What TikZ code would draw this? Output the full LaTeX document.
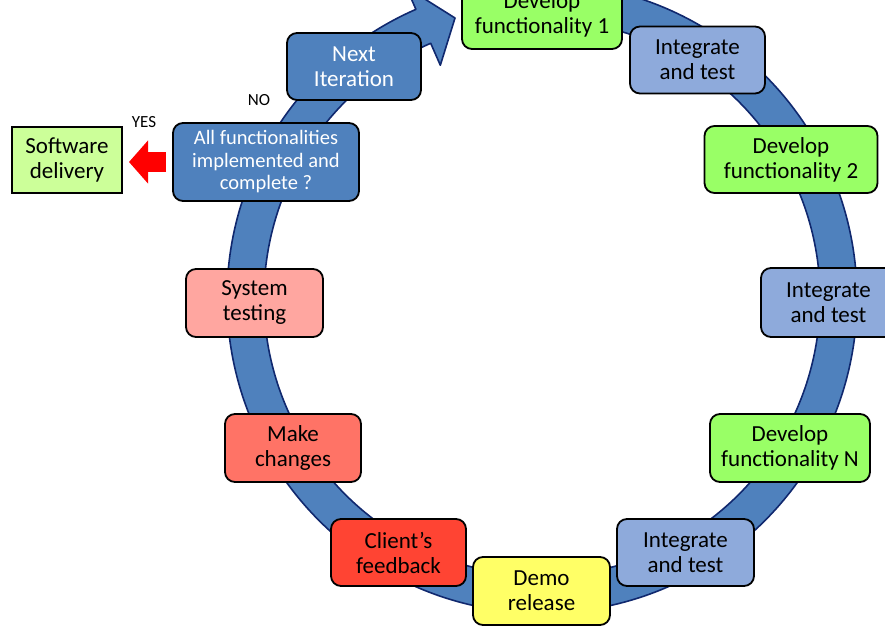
\documentclass[tikz,border=0pt]{standalone}
\usepackage{fontspec}
\setmainfont{Carlito}
\usetikzlibrary{arrows.meta}

\definecolor{devgreen}{RGB}{153,255,102}
\definecolor{intblue}{RGB}{142,170,219}
\definecolor{darkblue}{RGB}{79,129,189}
\definecolor{ringline}{RGB}{16,40,110}
\definecolor{demoyellow}{RGB}{255,255,102}
\definecolor{clientred}{RGB}{255,68,51}
\definecolor{makered}{RGB}{255,115,102}
\definecolor{syspink}{RGB}{255,166,160}
\definecolor{deliverygreen}{RGB}{204,255,153}

\tikzset{
  stepbox/.style={rectangle, rounded corners=10pt, draw=black, line width=1.8pt,
    inner sep=0pt, align=center, text=black,
    font=\fontsize{23}{25}\selectfont},
  devbox/.style={stepbox, fill=devgreen},
  intbox/.style={stepbox, fill=intblue, minimum width=135pt, minimum height=67pt},
  bluebox/.style={stepbox, fill=darkblue, text=white},
  flag/.style={font=\fontsize{17}{19}\selectfont, text=black},
  yesarrow/.style={draw=red, line width=20pt,
    -{Triangle[length=19pt,width=42pt]}, shorten <=6pt, shorten >=6pt}
}

\begin{document}
\begin{tikzpicture}[x=1pt,y=1pt]
\useasboundingbox (0,0) rectangle (885,627);
\clip (0,0) rectangle (885,627);

% iteration ring with its arrow head
\begin{scope}[shift={(542,329)}]
  \fill[darkblue, draw=ringline, line width=1.6pt, line join=round]
    (95:315pt) arc[start angle=95, end angle=-246.4, radius=315pt]
    -- (113.6:339pt) -- (-87pt,280pt) -- (113.6:254pt) -- (113.6:278pt)
    arc[start angle=-246.4, end angle=95, radius=278pt] -- cycle;
\end{scope}

% steps of the cycle
\node[devbox, minimum width=160pt, minimum height=68pt] (dev1) at (542,612) {Develop\\functionality 1};
\node[intbox] (int1) at (697.5,567) {Integrate\\and test};
\node[devbox, minimum width=173pt, minimum height=67pt] (dev2) at (791,467.5) {Develop\\functionality 2};
\node[intbox, minimum height=69pt] (int2) at (828.5,324.5) {Integrate\\and test};
\node[devbox, minimum width=160pt, minimum height=68pt] (devN) at (790,179) {Develop\\functionality N};
\node[intbox, minimum width=137pt] (int3) at (685.5,74.5) {Integrate\\and test};
\node[stepbox, fill=demoyellow, minimum width=137pt, minimum height=68pt] (demo) at (541.5,36) {Demo\\release};
\node[stepbox, fill=clientred, minimum width=135pt, minimum height=67pt] (client) at (398.5,74.5) {Client’s\\feedback};
\node[stepbox, fill=makered, minimum width=136pt, minimum height=68pt] (make) at (293,179) {Make\\changes};
\node[stepbox, fill=syspink, minimum width=137pt, minimum height=68pt] (sys) at (254.5,324) {System\\testing};
\node[bluebox, minimum width=186pt, minimum height=78pt, font=\fontsize{20.5}{22.5}\selectfont] (all) at (266,465)
  {All functionalities\\implemented and\\complete ?};
\node[bluebox, minimum width=134pt, minimum height=67pt] (next) at (354,560.5) {Next\\Iteration};

% exit of the loop
\node[rectangle, draw=black, line width=2pt, fill=deliverygreen, inner sep=0pt,
  minimum width=110pt, minimum height=66pt, align=center,
  font=\fontsize{23}{25}\selectfont] (sw) at (67,467) {Software\\delivery};
\draw[yesarrow] (all.west) -- (all.west -| sw.east);

\node[flag] (no) at (259,527) {NO};
\node[flag] (yes) at (144,505) {YES};
\end{tikzpicture}
\end{document}
